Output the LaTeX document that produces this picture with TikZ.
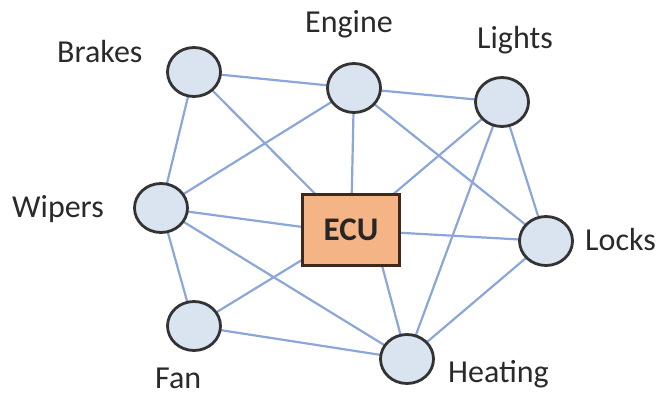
\documentclass[tikz,border=0pt]{standalone}
\usepackage{fontspec}
\setmainfont{Carlito}
\usetikzlibrary{backgrounds,shapes.geometric}
\definecolor{linkblue}{HTML}{8BA6D8}
\definecolor{unitfill}{HTML}{DAE3F0}
\definecolor{unitedge}{HTML}{333333}
\definecolor{ecufill}{HTML}{F4B485}
\definecolor{ecuedge}{HTML}{3E2A1C}
\definecolor{labeltext}{HTML}{2A2A2A}
\tikzset{
  unit/.style={ellipse, draw=unitedge, fill=unitfill, line width=2.8pt,
    minimum width=53pt, minimum height=49pt, inner sep=0pt, outer sep=0pt},
  ecubox/.style={rectangle, draw=ecuedge, fill=ecufill, line width=2.6pt,
    minimum width=97pt, minimum height=71pt, inner sep=0pt, outer sep=0pt,
    font=\fontsize{33}{36}\selectfont\bfseries, text=black!85},
  tag/.style={font=\fontsize{32}{36}\selectfont, text=labeltext, inner sep=0pt,
    anchor=base west},
  link/.style={draw=linkblue, line width=2.2pt}
}
\begin{document}
\begin{tikzpicture}[x=1pt,y=-1pt]
\useasboundingbox (0,0) rectangle (660,395);

% control units
\node[unit] (brakes)  at (194,72)  {};
\node[unit] (engine)  at (354,88)  {};
\node[unit] (lights)  at (502,102) {};
\node[unit] (wipers)  at (161,208) {};
\node[unit] (locks)   at (546,241) {};
\node[unit] (fan)     at (194,326) {};
\node[unit] (heating) at (407,359) {};
\node[ecubox] (ecu)   at (351,230) {ECU};

% labels
\node[tag] (tbrakes)  at (57,63)   {Brakes};
\node[tag] (tengine)  at (305,33)  {Engine};
\node[tag] (tlights)  at (477,49)  {Lights};
\node[tag] (twipers)  at (12,217)  {Wipers};
\node[tag] (tlocks)   at (585,250) {Locks};
\node[tag] (tfan)     at (155,388) {Fan};
\node[tag] (theating) at (448,382) {Heating};

% attachment points on the ECU box
\coordinate (ecuw) at ([yshift=3pt]ecu.west);
\coordinate (ecus) at ([xshift=31pt]ecu.south);

% network links
\begin{scope}[on background layer]
\draw[link] (brakes) -- (engine);
\draw[link] (brakes) -- (wipers);
\draw[link] (brakes) -- (ecu);
\draw[link] (engine) -- (lights);
\draw[link] (engine) -- (ecu);
\draw[link] (engine) -- (wipers);
\draw[link] (engine) -- (locks);
\draw[link] (lights) -- (ecu);
\draw[link] (lights) -- (locks);
\draw[link] (lights) -- (heating);
\draw[link] (wipers) -- (ecuw);
\draw[link] (wipers) -- (heating);
\draw[link] (wipers) -- (fan);
\draw[link] (fan) -- (ecu);
\draw[link] (fan) -- (heating);
\draw[link] (ecu) -- (locks);
\draw[link] (ecus) -- (heating);
\draw[link] (locks) -- (heating);
\end{scope}
\end{tikzpicture}
\end{document}
